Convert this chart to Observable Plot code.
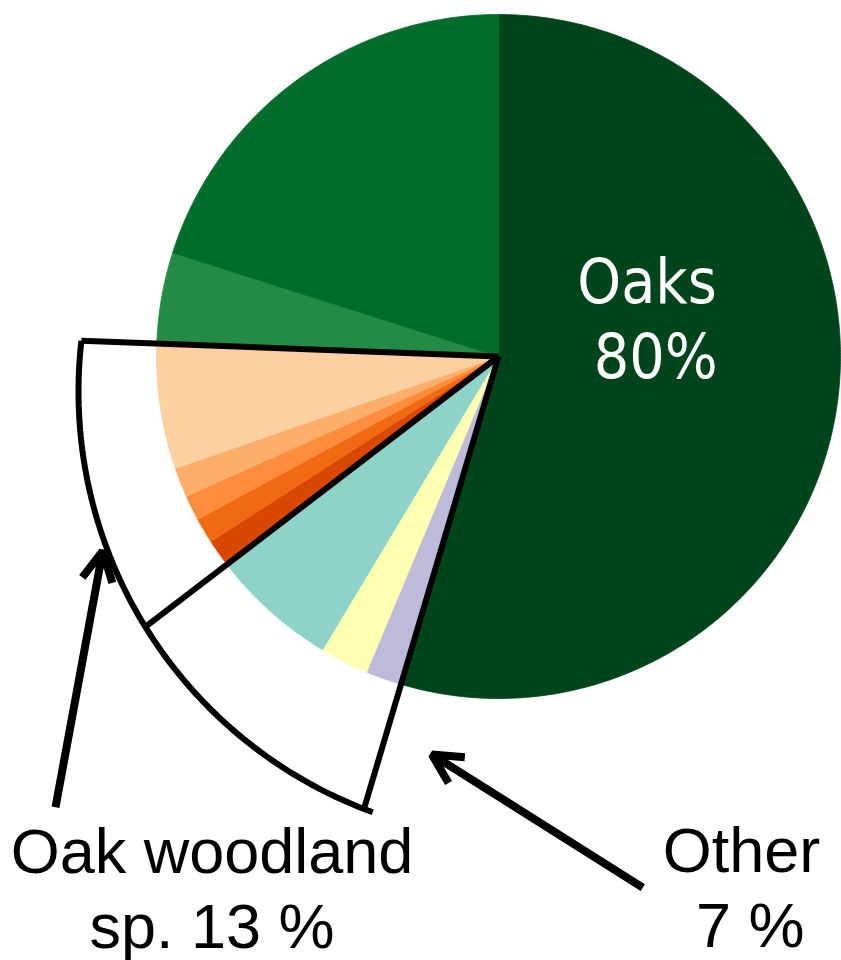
<!DOCTYPE html>
<html>
<head>
<meta charset="utf-8">
<script src="https://cdn.jsdelivr.net/npm/d3@7"></script>
<script src="https://cdn.jsdelivr.net/npm/@observablehq/plot@0.6"></script>
<style>
  html, body { margin: 0; padding: 0; background: #ffffff; }
  #chart svg { display: block; }
</style>
</head>
<body>
<div id="chart"></div>
<script>
// Species shares, clockwise from 12 o'clock, grouped into three classes
const speciesGroup = [
  "Oaks",
  "Other", "Other", "Other",
  "Oak woodland sp.", "Oak woodland sp.", "Oak woodland sp.", "Oak woodland sp.", "Oak woodland sp.",
  "Oaks", "Oaks"
];
const speciesShare = [54.6, 1.7, 2.3, 6.0, 1.3, 1.2, 1.2, 1.4, 5.9, 4.3, 20.1];
const speciesColor = [
  "#00441b",
  "#bebada", "#ffffb3", "#8dd3c7",
  "#d94801", "#f16913", "#fd8d3c", "#fdae6b", "#fdd0a2",
  "#238b45", "#006d2c"
];

// Class labels
const groupNames = ["Oaks", "Oak woodland sp.", "Other"];
const groupLabels = ["Oaks\n\u00a080%", "Oak woodland\nsp. 13 %", "Other\n\u00a07 %"];

// ---- layout -------------------------------------------------------------
const W = 841, H = 960;
const cx = 498, cy = 356, R = 342;      // pie centre and radius (px)
// Plot coordinates are in pie-radius units, origin at the pie centre, y up
const xDomain = [-cx / R, (W - cx) / R];
const yDomain = [-(H - cy) / R, cy / R];

const deg = Math.PI / 180;
const polar = (theta, r) => ({x: r * Math.sin(theta * deg), y: r * Math.cos(theta * deg)});

// ---- slices -------------------------------------------------------------
const total = d3.sum(speciesShare);
const sliceRows = [];
const sliceStart = [];
let acc = 0;
speciesShare.forEach((v, i) => {
  const a0 = acc / total * 360;
  acc += v;
  const a1 = acc / total * 360;
  sliceStart.push(a0);
  const n = Math.max(2, Math.ceil((a1 - a0) / 0.5));
  sliceRows.push({slice: i, x: 0, y: 0, color: speciesColor[i]});
  for (let k = 0; k <= n; ++k) {
    const p = polar(a0 + (a1 - a0) * k / n, 1);
    sliceRows.push({slice: i, x: p.x, y: p.y, color: speciesColor[i]});
  }
});

// angles where one class gives way to the next
const boundary = {};
speciesGroup.forEach((g, i) => {
  if (i > 0 && g !== speciesGroup[i - 1]) boundary[speciesGroup[i - 1] + "|" + g] = sliceStart[i];
});
const otherStart = boundary["Oaks|Other"];
const woodStart = boundary["Other|Oak woodland sp."];
const woodEnd = boundary["Oak woodland sp.|Oaks"];

// ---- brackets: radial rules out to a sweeping outer arc ------------------
const bc = {x: 28 / R, y: -35 / R}, br = 448 / R;
function rayHit(theta) {
  const d = polar(theta, 1);
  const b = d.x * bc.x + d.y * bc.y;
  const t = b + Math.sqrt(b * b - (bc.x * bc.x + bc.y * bc.y) + br * br);
  return {x: d.x * t, y: d.y * t};
}
const phiOf = (p) => (Math.atan2(p.x - bc.x, p.y - bc.y) / deg + 360) % 360;

const pTop = rayHit(woodEnd), pMid = rayHit(woodStart), pEnd = rayHit(otherStart);
const bracketRows = [];
[["top", pTop], ["mid", pMid], ["end", pEnd]].forEach(([seg, p]) => {
  bracketRows.push({seg, x: 0, y: 0}, {seg, x: p.x, y: p.y});
});
{
  const f0 = phiOf(pTop), f1 = phiOf(pEnd) - 1.2;
  const n = 120;
  for (let k = 0; k <= n; ++k) {
    const f = f0 + (f1 - f0) * k / n;
    bracketRows.push({seg: "arc", x: bc.x + br * Math.sin(f * deg), y: bc.y + br * Math.cos(f * deg)});
  }
}

// ---- arrows from the labels to the brackets -------------------------------
const arrowSpec = [
  {tail: [224.5, 1.848], tip: [243.8, 1.290]},
  {tail: [164.8, 1.609], tip: [189.5, 1.180]}
];
const arrowRows = arrowSpec.map(({tail, tip}) => {
  const a = polar(...tail), b = polar(...tip);
  return {x1: a.x, y1: a.y, x2: b.x, y2: b.y};
});

// ---- label placement (last baseline of each label) -----------------------
const labelPos = {
  "Oaks": {x: 148.5 / R, y: -21 / R},
  "Oak woodland sp.": {x: -286.5 / R, y: -591 / R},
  "Other": {x: 243 / R, y: -590 / R}
};
const labelRows = groupNames.map((g, i) => ({group: g, text: groupLabels[i], ...labelPos[g]}));

const chart = Plot.plot({
  width: W,
  height: H,
  margin: 0,
  x: {domain: xDomain, axis: null},
  y: {domain: yDomain, axis: null},
  color: {type: "identity"},
  marks: [
    Plot.line(sliceRows, {
      x: "x", y: "y", z: "slice",
      fill: "color", stroke: "color", strokeWidth: 0.8,
      curve: "linear-closed"
    }),
    Plot.line(bracketRows, {
      x: "x", y: "y", z: "seg",
      stroke: "black", strokeWidth: 6,
      strokeLinecap: "butt", strokeLinejoin: "miter"
    }),
    Plot.arrow(arrowRows, {
      x1: "x1", y1: "y1", x2: "x2", y2: "y2",
      stroke: "black", strokeWidth: 8,
      headLength: 6.2, headAngle: 55,
      strokeLinecap: "butt", strokeLinejoin: "miter"
    }),
    Plot.text(labelRows.filter((d) => d.group === "Oaks"), {
      x: "x", y: "y", text: "text",
      fill: "white", fontSize: 62, lineHeight: 75 / 62,
      fontFamily: "'DejaVu Sans Condensed', 'DejaVu Sans', sans-serif",
      textAnchor: "middle", lineAnchor: "bottom"
    }),
    Plot.text(labelRows.filter((d) => d.group !== "Oaks"), {
      x: "x", y: "y", text: "text",
      fill: "black", fontSize: 63, lineHeight: 75 / 63,
      fontFamily: "'Liberation Sans', Arial, sans-serif",
      textAnchor: "middle", lineAnchor: "bottom"
    })
  ]
});

document.getElementById("chart").append(chart);
</script>
</body>
</html>
